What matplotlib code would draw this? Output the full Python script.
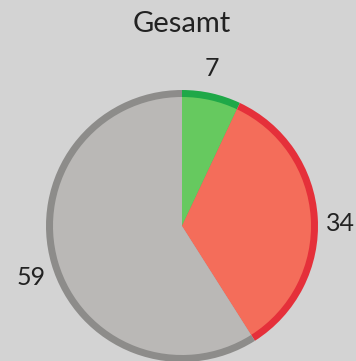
import matplotlib
matplotlib.use("Agg")
import matplotlib.pyplot as plt
import numpy as np

title = "Gesamt"
categories = ["Ja", "Nein", "Keine Angabe"]
values = [7, 34, 59]
fill_colors = ["#66c95f", "#f46d5a", "#bab8b6"]
ring_colors = ["#1fa848", "#e5303a", "#8d8c8a"]
# small pixel nudges for the value labels (dx, dy)
label_nudges = [(-5, 2), (0, -7), (2, -7)]

W, H = 356, 361
fig = plt.figure(figsize=(W / 100, H / 100), dpi=100)
fig.patch.set_facecolor("#d3d3d3")
ax = fig.add_axes([0, 0, 1, 1])

cx, cy, r = 182, H - 226, 136
ring = 7

# outer ring in the darker shade
ax.pie(values, colors=ring_colors, startangle=90, counterclock=False,
       radius=r, center=(cx, cy), frame=True,
       wedgeprops=dict(linewidth=0))
# inner fill
ax.pie(values, colors=fill_colors, startangle=90, counterclock=False,
       radius=r - ring, center=(cx, cy), frame=True,
       wedgeprops=dict(linewidth=0))

# value labels centred just outside each slice
total = sum(values)
start = 90.0
for v, (nx, ny) in zip(values, label_nudges):
    mid = np.deg2rad(start - v / total * 360 / 2)
    start -= v / total * 360
    d = 1.17 * r
    ax.text(cx + d * np.cos(mid) + nx, cy + d * np.sin(mid) + ny, str(v),
            ha="center", va="center", fontsize=18, color="#222222",
            family="Lato")

ax.set_xlim(0, W)
ax.set_ylim(0, H)
ax.set_aspect("equal")
ax.axis("off")
ax.text(cx, H - 24, title, ha="center", va="center", fontsize=21,
        color="#222222", family="Lato")

fig.savefig("out.png", dpi=100, facecolor=fig.get_facecolor())
